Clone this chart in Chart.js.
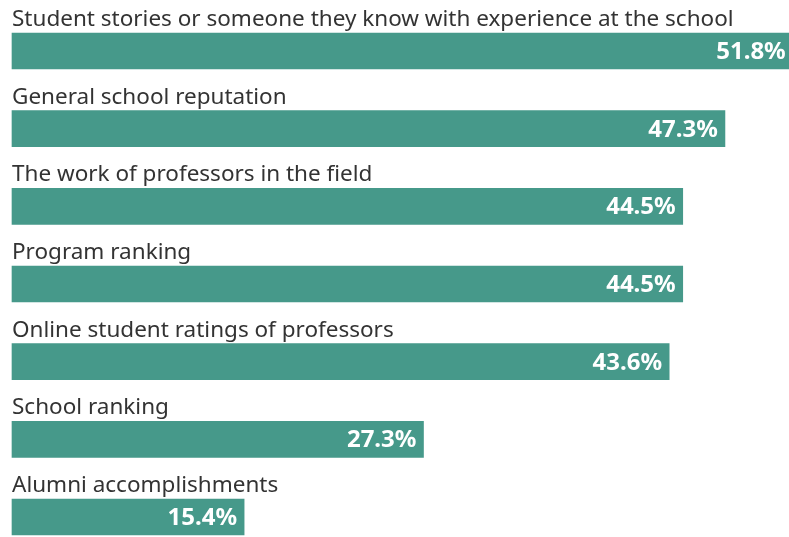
<!DOCTYPE html>
<html>
<head>
<meta charset="utf-8">
<script src="https://cdn.jsdelivr.net/npm/chart.js@4"></script>
<style>
  html, body { margin: 0; padding: 0; background: #fff; }
  #wrap { width: 789px; height: 537px; }
</style>
</head>
<body>
<div id="wrap"><canvas id="myChart"></canvas></div>
<script>
const categories = [
  'Student stories or someone they know with experience at the school',
  'General school reputation',
  'The work of professors in the field',
  'Program ranking',
  'Online student ratings of professors',
  'School ranking',
  'Alumni accomplishments'
];
const values = [51.8, 47.3, 44.5, 44.5, 43.6, 27.3, 15.4];

// draw category names above each bar and values inside bar ends
const barLabels = {
  id: 'barLabels',
  afterDatasetsDraw(chart) {
    const ctx = chart.ctx;
    const meta = chart.getDatasetMeta(0);
    ctx.save();
    meta.data.forEach((bar, i) => {
      const top = bar.y - bar.height / 2;
      ctx.fillStyle = '#333333';
      ctx.font = '22.5px "Noto Sans"';
      ctx.textAlign = 'left';
      ctx.textBaseline = 'alphabetic';
      ctx.fillText(categories[i], chart.chartArea.left, top - 7);

      ctx.fillStyle = '#ffffff';
      ctx.font = 'bold 24px "Noto Sans"';
      ctx.textAlign = 'right';
      ctx.textBaseline = 'middle';
      ctx.fillText(values[i].toFixed(1) + '%', bar.x - 7, bar.y + 1);
    });
    ctx.restore();
  }
};

new Chart(document.getElementById('myChart'), {
  type: 'bar',
  data: {
    labels: categories,
    datasets: [{
      data: values,
      backgroundColor: '#46998a',
      barThickness: 36,
      clip: false
    }]
  },
  options: {
    indexAxis: 'y',
    responsive: true,
    maintainAspectRatio: false,
    animation: false,
    layout: { padding: { left: 12, right: 0, top: 51, bottom: 20 } },
    scales: {
      x: { display: false, min: 0, max: 51.55 },
      y: { display: false, offset: false }
    },
    plugins: {
      legend: { display: false },
      tooltip: { enabled: false }
    }
  },
  plugins: [barLabels]
});
</script>
</body>
</html>
